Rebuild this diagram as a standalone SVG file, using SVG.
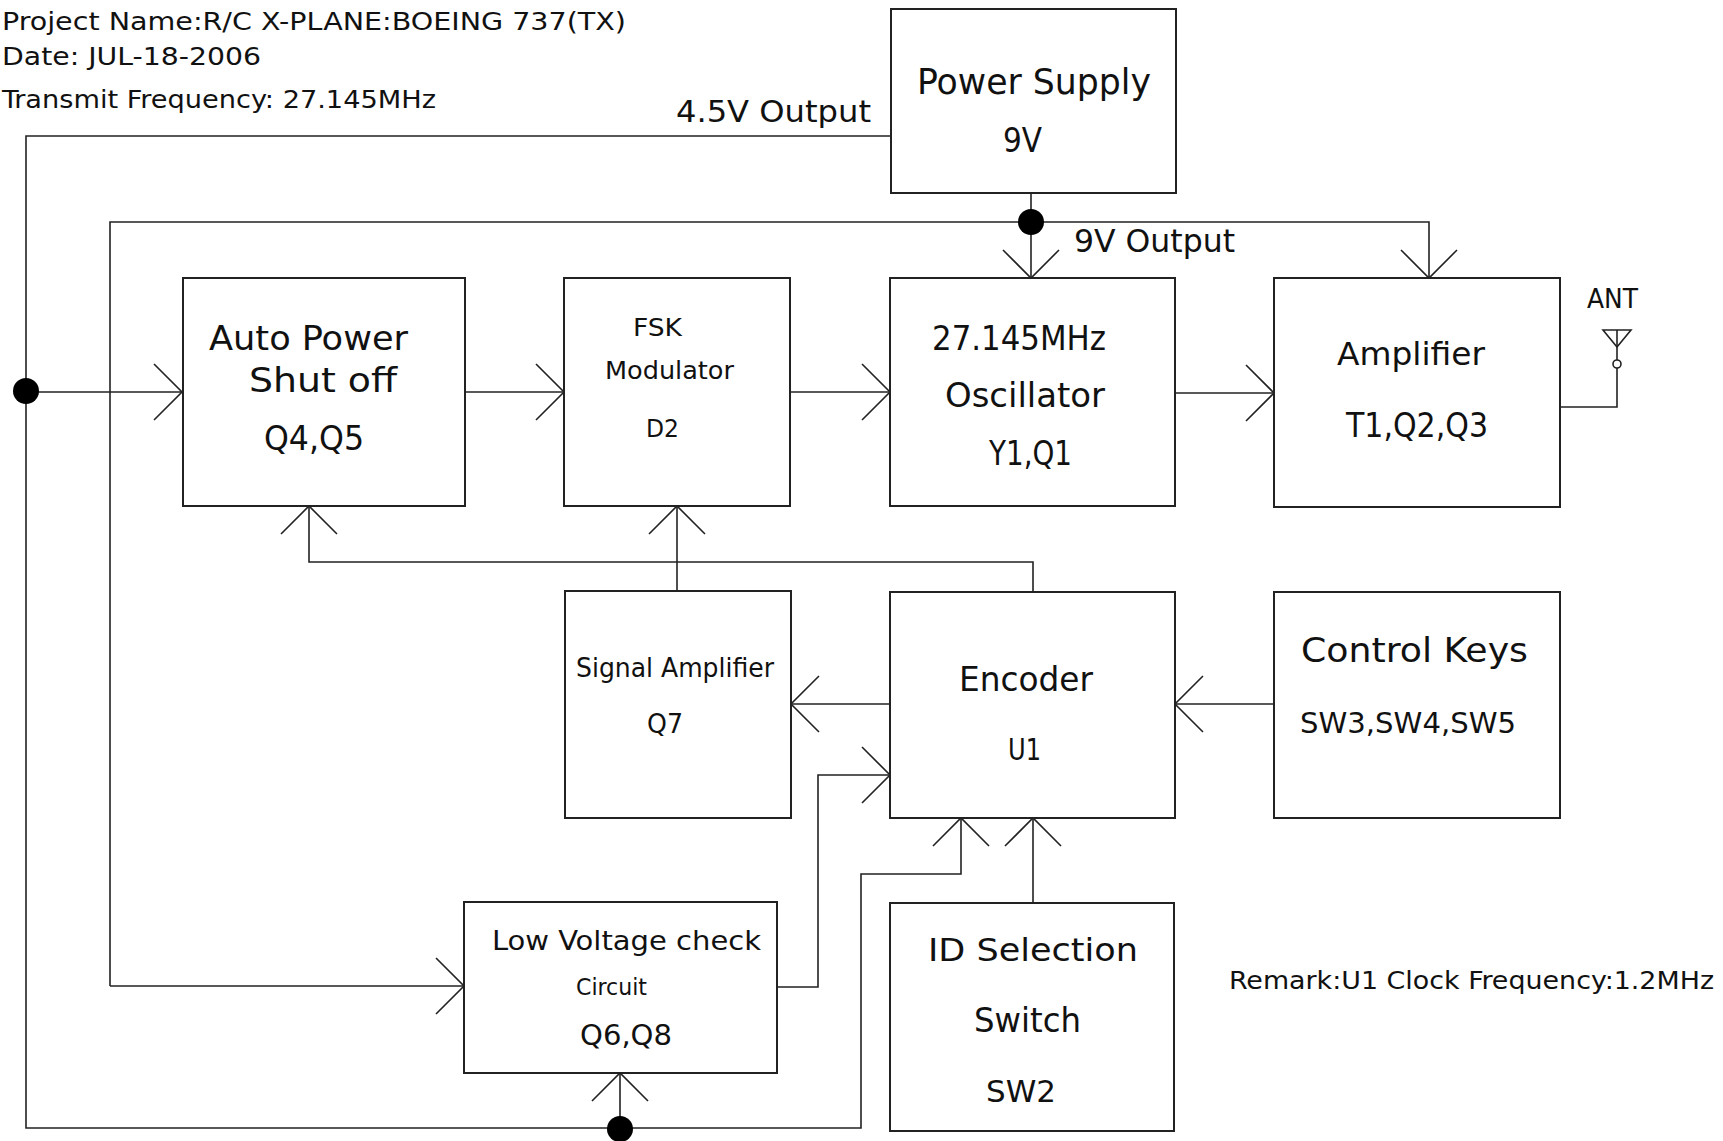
<svg xmlns="http://www.w3.org/2000/svg" width="1723" height="1141" viewBox="0 0 1723 1141">
<style>
.box{fill:none;stroke:#222;stroke-width:2}
.w{fill:none;stroke:#222;stroke-width:1.6}
.t{font-family:"DejaVu Sans Condensed","DejaVu Sans","Liberation Sans",sans-serif;fill:#111}
.dot{fill:#000}
</style>
<defs>
<path id="ar" d="M-28,-28 L0,0 L-28,28" class="w"/>
</defs>
<rect width="1723" height="1141" fill="#fff"/>
<g id="header">
<text class="t" x="2" y="30" font-size="25" textLength="624" lengthAdjust="spacingAndGlyphs">Project Name:R/C X-PLANE:BOEING 737(TX)</text>
<text class="t" x="2" y="65" font-size="25" textLength="259" lengthAdjust="spacingAndGlyphs">Date: JUL-18-2006</text>
<text class="t" x="2" y="108" font-size="25" textLength="434" lengthAdjust="spacingAndGlyphs">Transmit Frequency: 27.145MHz</text>
<text class="t" x="1229" y="989" font-size="24" textLength="485" lengthAdjust="spacingAndGlyphs">Remark:U1 Clock Frequency:1.2MHz</text>
</g>
<g id="connectors">
<polyline class="w" points="891,136 26,136 26,1128 861,1128 861,874 961,874 961,818"/>
<text class="t" x="676" y="122" font-size="31" textLength="195" lengthAdjust="spacingAndGlyphs">4.5V Output</text>
<line class="w" x1="1031" y1="193" x2="1031" y2="278"/>
<polyline class="w" points="110,986 110,222 1429,222 1429,278"/>
<text class="t" x="1074" y="252" font-size="32" textLength="161" lengthAdjust="spacingAndGlyphs">9V Output</text>
<line class="w" x1="26" y1="392" x2="182" y2="392"/>
<line class="w" x1="110" y1="986" x2="464" y2="986"/>
<line class="w" x1="465" y1="392" x2="564" y2="392"/>
<line class="w" x1="790" y1="392" x2="890" y2="392"/>
<line class="w" x1="1175" y1="393" x2="1274" y2="393"/>
<polyline class="w" points="1560,407 1617,407 1617,368"/>
<circle class="w" cx="1617" cy="364" r="4"/>
<line class="w" x1="1617" y1="360" x2="1617" y2="330"/>
<polygon class="w" points="1603,330 1631,330 1617,347"/>
<text class="t" x="1587" y="308" font-size="26" textLength="51" lengthAdjust="spacingAndGlyphs">ANT</text>
<polyline class="w" points="1033,592 1033,562 309,562 309,506"/>
<line class="w" x1="677" y1="591" x2="677" y2="506"/>
<line class="w" x1="890" y1="704" x2="791" y2="704"/>
<polyline class="w" points="777,987 818,987 818,775 890,775"/>
<line class="w" x1="1274" y1="704" x2="1175" y2="704"/>
<line class="w" x1="1033" y1="903" x2="1033" y2="818"/>
<line class="w" x1="620" y1="1128" x2="620" y2="1073"/>
<use href="#ar" transform="translate(182,392)"/>
<use href="#ar" transform="translate(564,392)"/>
<use href="#ar" transform="translate(890,392)"/>
<use href="#ar" transform="translate(1274,393)"/>
<use href="#ar" transform="translate(464,986)"/>
<use href="#ar" transform="translate(890,775)"/>
<use href="#ar" transform="translate(1031,278) rotate(90)"/>
<use href="#ar" transform="translate(1429,278) rotate(90)"/>
<use href="#ar" transform="translate(309,506) rotate(-90)"/>
<use href="#ar" transform="translate(677,506) rotate(-90)"/>
<use href="#ar" transform="translate(961,818) rotate(-90)"/>
<use href="#ar" transform="translate(1033,818) rotate(-90)"/>
<use href="#ar" transform="translate(620,1073) rotate(-90)"/>
<use href="#ar" transform="translate(791,704) rotate(180)"/>
<use href="#ar" transform="translate(1175,704) rotate(180)"/>
<circle class="dot" cx="26" cy="391" r="13"/>
<circle class="dot" cx="1031" cy="222" r="13"/>
<circle class="dot" cx="620" cy="1129" r="13"/>
</g>
<g id="power-supply">
<rect class="box" x="891" y="9" width="285" height="184"/>
<text class="t" x="917" y="94" font-size="35" textLength="234" lengthAdjust="spacingAndGlyphs">Power Supply</text>
<text class="t" x="1003" y="152" font-size="33" textLength="39" lengthAdjust="spacingAndGlyphs">9V</text>
</g>
<g id="auto-power">
<rect class="box" x="183" y="278" width="282" height="228"/>
<text class="t" x="209" y="350" font-size="33" textLength="199" lengthAdjust="spacingAndGlyphs">Auto Power</text>
<text class="t" x="249" y="392" font-size="33" textLength="148" lengthAdjust="spacingAndGlyphs">Shut off</text>
<text class="t" x="264" y="450" font-size="33" textLength="100" lengthAdjust="spacingAndGlyphs">Q4,Q5</text>
</g>
<g id="fsk">
<rect class="box" x="564" y="278" width="226" height="228"/>
<text class="t" x="633" y="336" font-size="24" textLength="49" lengthAdjust="spacingAndGlyphs">FSK</text>
<text class="t" x="605" y="379" font-size="24" textLength="129" lengthAdjust="spacingAndGlyphs">Modulator</text>
<text class="t" x="646" y="437" font-size="24" textLength="33" lengthAdjust="spacingAndGlyphs">D2</text>
</g>
<g id="oscillator">
<rect class="box" x="890" y="278" width="285" height="228"/>
<text class="t" x="932" y="350" font-size="33" textLength="174" lengthAdjust="spacingAndGlyphs">27.145MHz</text>
<text class="t" x="945" y="407" font-size="33" textLength="160" lengthAdjust="spacingAndGlyphs">Oscillator</text>
<text class="t" x="989" y="465" font-size="33" textLength="83" lengthAdjust="spacingAndGlyphs">Y1,Q1</text>
</g>
<g id="amplifier">
<rect class="box" x="1274" y="278" width="286" height="229"/>
<text class="t" x="1337" y="365" font-size="32" textLength="148" lengthAdjust="spacingAndGlyphs">Amplifier</text>
<text class="t" x="1346" y="437" font-size="33" textLength="142" lengthAdjust="spacingAndGlyphs">T1,Q2,Q3</text>
</g>
<g id="signal-amplifier">
<rect class="box" x="565" y="591" width="226" height="227"/>
<text class="t" x="576" y="677" font-size="26" textLength="198" lengthAdjust="spacingAndGlyphs">Signal Amplifier</text>
<text class="t" x="647" y="733" font-size="27" textLength="36" lengthAdjust="spacingAndGlyphs">Q7</text>
</g>
<g id="encoder">
<rect class="box" x="890" y="592" width="285" height="226"/>
<text class="t" x="959" y="691" font-size="33" textLength="134" lengthAdjust="spacingAndGlyphs">Encoder</text>
<text class="t" x="1008" y="760" font-size="30" textLength="33" lengthAdjust="spacingAndGlyphs">U1</text>
</g>
<g id="control-keys">
<rect class="box" x="1274" y="592" width="286" height="226"/>
<text class="t" x="1301" y="662" font-size="33" textLength="227" lengthAdjust="spacingAndGlyphs">Control Keys</text>
<text class="t" x="1300" y="733" font-size="29" textLength="216" lengthAdjust="spacingAndGlyphs">SW3,SW4,SW5</text>
</g>
<g id="low-voltage">
<rect class="box" x="464" y="902" width="313" height="171"/>
<text class="t" x="492" y="950" font-size="27" textLength="269" lengthAdjust="spacingAndGlyphs">Low Voltage check</text>
<text class="t" x="576" y="995" font-size="23" textLength="71" lengthAdjust="spacingAndGlyphs">Circuit</text>
<text class="t" x="580" y="1045" font-size="28" textLength="92" lengthAdjust="spacingAndGlyphs">Q6,Q8</text>
</g>
<g id="id-selection">
<rect class="box" x="890" y="903" width="284" height="228"/>
<text class="t" x="928" y="961" font-size="32" textLength="210" lengthAdjust="spacingAndGlyphs">ID Selection</text>
<text class="t" x="974" y="1032" font-size="33" textLength="107" lengthAdjust="spacingAndGlyphs">Switch</text>
<text class="t" x="986" y="1102" font-size="30" textLength="70" lengthAdjust="spacingAndGlyphs">SW2</text>
</g>
</svg>
